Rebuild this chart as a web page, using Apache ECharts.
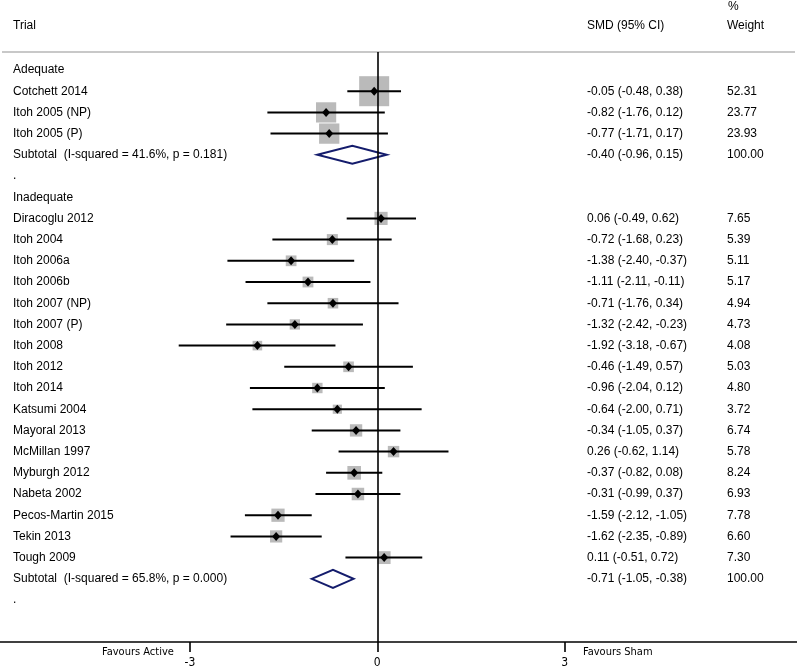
<!DOCTYPE html>
<html>
<head>
<meta charset="utf-8">
<script src="https://cdn.jsdelivr.net/npm/echarts@6/dist/echarts.min.js"></script>
<style>html,body{margin:0;padding:0;background:#fff}#c{width:797px;height:669px}</style>
</head>
<body>
<div id="c"></div>
<script>
// ---- data ----
const adequateTrials = ["Cotchett 2014", "Itoh 2005 (NP)", "Itoh 2005 (P)"];
const adequateSMD = [-0.05, -0.82, -0.77];
const adequateLow = [-0.48, -1.76, -1.71];
const adequateHigh = [0.38, 0.12, 0.17];
const adequateWeight = [52.31, 23.77, 23.93];
const adequateSubtotal = [-0.40, -0.96, 0.15, 100.00];
const adequateSubtotalLabel = "Subtotal  (I-squared = 41.6%, p = 0.181)";

const inadequateTrials = ["Diracoglu 2012", "Itoh 2004", "Itoh 2006a", "Itoh 2006b", "Itoh 2007 (NP)", "Itoh 2007 (P)", "Itoh 2008", "Itoh 2012", "Itoh 2014", "Katsumi 2004", "Mayoral 2013", "McMillan 1997", "Myburgh 2012", "Nabeta 2002", "Pecos-Martin 2015", "Tekin 2013", "Tough 2009"];
const inadequateSMD = [0.06, -0.72, -1.38, -1.11, -0.71, -1.32, -1.92, -0.46, -0.96, -0.64, -0.34, 0.26, -0.37, -0.31, -1.59, -1.62, 0.11];
const inadequateLow = [-0.49, -1.68, -2.40, -2.11, -1.76, -2.42, -3.18, -1.49, -2.04, -2.00, -1.05, -0.62, -0.82, -0.99, -2.12, -2.35, -0.51];
const inadequateHigh = [0.62, 0.23, -0.37, -0.11, 0.34, -0.23, -0.67, 0.57, 0.12, 0.71, 0.37, 1.14, 0.08, 0.37, -1.05, -0.89, 0.72];
const inadequateWeight = [7.65, 5.39, 5.11, 5.17, 4.94, 4.73, 4.08, 5.03, 4.80, 3.72, 6.74, 5.78, 8.24, 6.93, 7.78, 6.60, 7.30];
const inadequateSubtotal = [-0.71, -1.05, -0.38, 100.00];
const inadequateSubtotalLabel = "Subtotal  (I-squared = 65.8%, p = 0.000)";

const groupNames = ["Adequate", "Inadequate"];
const xTicks = [-3, 0, 3];

// ---- build rows ----
const groups = [
  {name: groupNames[0], trials: adequateTrials, smd: adequateSMD, low: adequateLow, high: adequateHigh, w: adequateWeight, sub: adequateSubtotal, subLabel: adequateSubtotalLabel, k: 4.15},
  {name: groupNames[1], trials: inadequateTrials, smd: inadequateSMD, low: inadequateLow, high: inadequateHigh, w: inadequateWeight, sub: inadequateSubtotal, subLabel: inadequateSubtotalLabel, k: 4.75}
];
const f2 = v => v.toFixed(2);
const textRows = [];   // [row, label, smdText, weightText]
const studyData = [];  // [smd, row, low, high, weight, k]
const subData = [];    // [smd, row, low, high]
let r = 0;
groups.forEach(g => {
  textRows.push([r, g.name, "", ""]); r++;
  g.trials.forEach((t, i) => {
    textRows.push([r, t, f2(g.smd[i]) + " (" + f2(g.low[i]) + ", " + f2(g.high[i]) + ")", f2(g.w[i])]);
    studyData.push([g.smd[i], r, g.low[i], g.high[i], g.w[i], g.k]);
    r++;
  });
  const s = g.sub;
  textRows.push([r, g.subLabel, f2(s[0]) + " (" + f2(s[1]) + ", " + f2(s[2]) + ")", f2(s[3])]);
  subData.push([s[0], r, s[1], s[2]]);
  r++;
  textRows.push([r, ".", "", ""]); r++;
});

const FONT = "'Liberation Sans', Arial, Helvetica, sans-serif";
const NARROW = "'Liberation Sans Narrow', 'DejaVu Sans Condensed', 'Liberation Sans', sans-serif";

const chart = echarts.init(document.getElementById('c'), null, {renderer: 'canvas'});
chart.setOption({
  animation: false,
  backgroundColor: '#fff',
  grid: {left: 0, right: 0, top: 52, bottom: 27, containLabel: false},
  xAxis: {
    type: 'value', min: -6.0416, max: 6.7206, position: 'bottom',
    axisLine: {show: true, onZero: false, lineStyle: {color: '#000', width: 1.6}},
    axisTick: {show: true, customValues: xTicks, length: 10, lineStyle: {color: '#000', width: 1.6}},
    axisLabel: {show: true, customValues: xTicks, color: '#000', fontFamily: NARROW, fontSize: 12, margin: 15},
    splitLine: {show: false}
  },
  yAxis: {type: 'value', inverse: true, min: -0.849, max: 26.98, show: false},
  graphic: [
    {type: 'line', shape: {x1: 2, y1: 52, x2: 795, y2: 52}, style: {stroke: '#c8c8c8', lineWidth: 2}},
    {type: 'text', left: 13, top: 20, style: {text: 'Trial', font: '12px ' + FONT, fill: '#000'}},
    {type: 'text', left: 587, top: 20, style: {text: 'SMD (95% CI)', font: '12px ' + FONT, fill: '#000'}},
    {type: 'text', left: 728, top: 1, style: {text: '%', font: '12px ' + FONT, fill: '#000'}},
    {type: 'text', left: 727, top: 20, style: {text: 'Weight', font: '12px ' + FONT, fill: '#000'}},
    {type: 'text', left: 102, top: 647, style: {text: 'Favours Active', font: '11px ' + NARROW, fill: '#000'}},
    {type: 'text', left: 583, top: 647, style: {text: 'Favours Sham', font: '11px ' + NARROW, fill: '#000'}}
  ],
  series: [
    {
      type: 'custom', name: 'studies', data: studyData, encode: {x: 0, y: 1}, clip: false,
      renderItem: function (params, api) {
        const row = api.value(1);
        const c = api.coord([api.value(0), row]);
        const lo = api.coord([api.value(2), row]);
        const hi = api.coord([api.value(3), row]);
        const s = api.value(5) * Math.sqrt(api.value(4));
        return {type: 'group', children: [
          {type: 'rect', shape: {x: c[0] - s / 2, y: c[1] - s / 2, width: s, height: s}, style: {fill: '#bababa'}},
          {type: 'line', shape: {x1: lo[0], y1: c[1], x2: hi[0], y2: c[1]}, style: {stroke: '#000', lineWidth: 2}},
          {type: 'polygon', shape: {points: [[c[0] - 4, c[1]], [c[0], c[1] - 4.5], [c[0] + 4, c[1]], [c[0], c[1] + 4.5]]}, style: {fill: '#000'}}
        ]};
      },
      markLine: {
        silent: true, symbol: ['none', 'none'], label: {show: false},
        lineStyle: {color: '#000', width: 1.6, type: 'solid'},
        data: [{xAxis: 0}]
      }
    },
    {
      type: 'custom', name: 'subtotals', data: subData, encode: {x: 0, y: 1}, clip: false,
      renderItem: function (params, api) {
        const row = api.value(1);
        const c = api.coord([api.value(0), row]);
        const lo = api.coord([api.value(2), row]);
        const hi = api.coord([api.value(3), row]);
        return {type: 'polygon', shape: {points: [[lo[0], c[1]], [c[0], c[1] - 9], [hi[0], c[1]], [c[0], c[1] + 9]]},
          style: {fill: '#fff', stroke: '#141c6c', lineWidth: 2}};
      }
    },
    {
      type: 'custom', name: 'texts', data: textRows.map(t => [0, t[0]]), encode: {x: 0, y: 1}, clip: false,
      renderItem: function (params, api) {
        const t = textRows[params.dataIndex];
        const y = api.coord([0, api.value(1)])[1];
        const mk = (x, txt) => ({type: 'text', style: {text: txt, x: x, y: y, font: '12px ' + FONT, fill: '#000', verticalAlign: 'middle', align: 'left'}});
        return {type: 'group', children: [mk(13, t[1]), mk(587, t[2]), mk(727, t[3])]};
      }
    }
  ]
});
</script>
</body>
</html>
